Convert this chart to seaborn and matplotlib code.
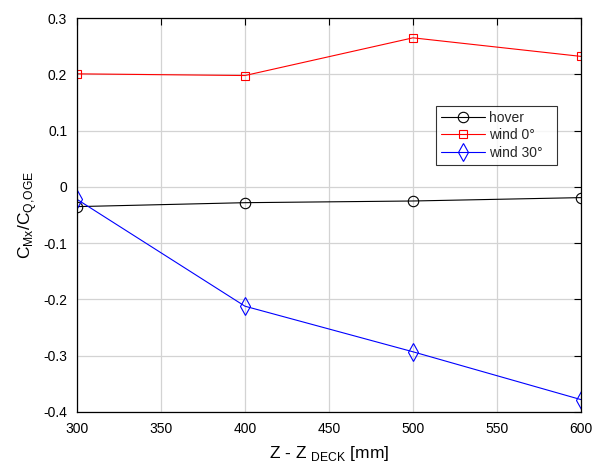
import matplotlib
matplotlib.use("Agg")
import matplotlib.pyplot as plt
import seaborn as sns
import pandas as pd

z = [300, 400, 500, 600]
hover = [-0.035, -0.028, -0.025, -0.019]
wind0 = [0.201, 0.198, 0.265, 0.232]
wind30 = [-0.022, -0.212, -0.293, -0.378]
labels = ["hover", "wind 0\u00b0", "wind 30\u00b0"]

sns.set_theme(style="white")
plt.rcParams['font.family'] = ['Liberation Sans', 'DejaVu Sans']
plt.rcParams['mathtext.fontset'] = 'custom'
plt.rcParams['mathtext.rm'] = 'Liberation Sans'

df = pd.DataFrame({
    "z": z * 3,
    "val": hover + wind0 + wind30,
    "series": [labels[0]] * 4 + [labels[1]] * 4 + [labels[2]] * 4,
})

fig = plt.figure(figsize=(5.99, 4.65), dpi=100)
ax = fig.add_axes([0.1285, 0.114, 0.8414, 0.847])

palette = {labels[0]: "black", labels[1]: "red", labels[2]: "blue"}
markers = {labels[0]: "o", labels[1]: "s", labels[2]: "d"}
msize = {labels[0]: 7.5, labels[1]: 6, labels[2]: 9}
for lab in labels:
    sub = df[df.series == lab]
    sns.lineplot(data=sub, x="z", y="val", ax=ax, color=palette[lab],
                 marker=markers[lab], markersize=msize[lab], markerfacecolor="none",
                 markeredgecolor=palette[lab], markeredgewidth=0.8,
                 linewidth=0.8, label=lab)

ax.set_xlim(300, 600)
ax.set_ylim(-0.4, 0.3)
ax.set_xticks([300, 350, 400, 450, 500, 550, 600])
ax.set_yticks([-0.4, -0.3, -0.2, -0.1, 0, 0.1, 0.2, 0.3])
ax.set_yticklabels(["-0.4", "-0.3", "-0.2", "-0.1", "0", "0.1", "0.2", "0.3"])
ax.grid(True, color="#d3d3d3", linewidth=0.9)
ax.tick_params(direction="in", top=True, right=True, length=5, width=0.8,
               labelsize=10, colors="black", pad=7)
for s in ax.spines.values():
    s.set_color("black")
    s.set_linewidth(0.9)
ax.set_xlabel(r"Z - Z $_{\rm DECK}$ [mm]", fontsize=12.5, color="black", labelpad=6)
ax.set_ylabel(r"C$_{\rm Mx}$/C$_{{\rm Q}{,}{\rm OGE}}$", fontsize=12.5, color="black", labelpad=3)

leg = ax.legend(loc="upper left", bbox_to_anchor=(0.712, 0.65, 0.240, 0.127),
                mode="expand", fontsize=10,
                frameon=True, fancybox=False, edgecolor="black",
                handlelength=3.2, borderpad=0.35, labelspacing=0.25, handletextpad=0.3,
                borderaxespad=0)
leg.get_frame().set_linewidth(0.8)

fig.savefig("out.png", dpi=100)
